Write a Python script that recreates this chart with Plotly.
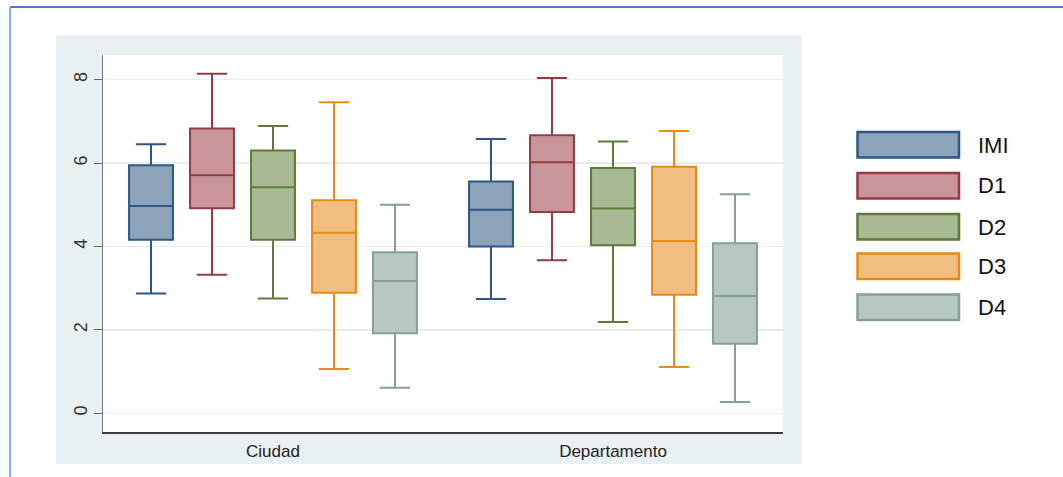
import plotly.graph_objects as go

# ---- data ----
groups = ["Ciudad", "Departamento"]
series = ["IMI", "D1", "D2", "D3", "D4"]

lower = {
    "IMI": [2.87, 2.74],
    "D1": [3.32, 3.67],
    "D2": [2.75, 2.19],
    "D3": [1.06, 1.11],
    "D4": [0.61, 0.27],
}
q1 = {
    "IMI": [4.16, 4.00],
    "D1": [4.92, 4.83],
    "D2": [4.16, 4.03],
    "D3": [2.89, 2.84],
    "D4": [1.92, 1.67],
}
median = {
    "IMI": [4.97, 4.88],
    "D1": [5.71, 6.02],
    "D2": [5.42, 4.91],
    "D3": [4.33, 4.13],
    "D4": [3.17, 2.81],
}
q3 = {
    "IMI": [5.95, 5.56],
    "D1": [6.83, 6.67],
    "D2": [6.30, 5.88],
    "D3": [5.11, 5.91],
    "D4": [3.86, 4.08],
}
upper = {
    "IMI": [6.45, 6.58],
    "D1": [8.14, 8.04],
    "D2": [6.89, 6.52],
    "D3": [7.46, 6.77],
    "D4": [5.00, 5.25],
}
y_ticks = [0, 2, 4, 6, 8]

# ---- styles ----
line_colors = ["#2C5885", "#933C43", "#5C7A3A", "#E88A14", "#86A096"]
fill_colors = ["#8CA3B9", "#C8969A", "#A9BA93", "#F0BE80", "#B7C8C1"]

W, H = 1063, 477
L, R, T, B = 103, 783, 55, 432  # plot area in pixels


def px(x):
    return (x - L) / (R - L)


def py(y):
    return (B - y) / (B - T)


fig = go.Figure()
for i, s in enumerate(series):
    fig.add_trace(go.Box(
        x=groups,
        q1=q1[s], median=median[s], q3=q3[s],
        lowerfence=lower[s], upperfence=upper[s],
        name=s,
        fillcolor=fill_colors[i],
        line=dict(color=line_colors[i], width=2),
        whiskerwidth=0.69,
        boxpoints=False,
        showlegend=False,
        hoverinfo="skip",
    ))

shapes = [
    # light panel
    dict(type="rect", xref="paper", yref="paper",
         x0=px(56), x1=px(802), y0=py(464), y1=py(35),
         fillcolor="#EAF1F3", line=dict(width=0), layer="below"),
    # white plot region
    dict(type="rect", xref="paper", yref="paper",
         x0=0, x1=1, y0=0, y1=1,
         fillcolor="#FFFFFF", line=dict(width=0), layer="below"),
    # outer blue frame
    dict(type="line", xref="paper", yref="paper",
         x0=px(10), x1=px(1063), y0=py(7), y1=py(7),
         line=dict(color="#3F7ED3", width=2)),
    dict(type="line", xref="paper", yref="paper",
         x0=px(10), x1=px(10), y0=py(7), y1=py(477),
         line=dict(color="#7DB2EA", width=2)),
]

annotations = []
leg_top = [132, 173, 214, 253.5, 294.5]
for i, s in enumerate(series):
    y0 = leg_top[i]
    shapes.append(dict(type="rect", xref="paper", yref="paper",
                       x0=px(857.5), x1=px(959), y0=py(y0 + 25.5), y1=py(y0),
                       fillcolor=fill_colors[i],
                       line=dict(color=line_colors[i], width=2.5)))
    annotations.append(dict(xref="paper", yref="paper",
                            x=px(976), y=py(y0 + 13), text=s,
                            showarrow=False, xanchor="left", yanchor="middle",
                            font=dict(family="Liberation Sans, Arial, sans-serif",
                                      size=22, color="#111111")))

fig.update_layout(
    width=W, height=H,
    margin=dict(l=L, r=W - R, t=T, b=H - B, pad=0),
    paper_bgcolor="#FFFFFF",
    plot_bgcolor="rgba(0,0,0,0)",
    boxmode="group",
    boxgap=0.103,
    boxgroupgap=0.28,
    shapes=shapes,
    annotations=annotations,
    font=dict(family="Liberation Sans, Arial, sans-serif", color="#222222"),
    showlegend=False,
)

fig.update_xaxes(
    type="category",
    range=[-0.5, 1.5],
    showline=True, linecolor="#3A3A3A", linewidth=1.5,
    ticks="", showgrid=False, zeroline=False,
    tickfont=dict(size=17, color="#222222"),
    ticklabelstandoff=3,
)
fig.update_yaxes(
    range=[(413.3 - B) / 41.7, (413.3 - T) / 41.7],
    tickvals=y_ticks,
    ticktext=[str(v) for v in y_ticks],
    tickangle=-90,
    ticks="outside", ticklen=8, tickcolor="#666666", tickwidth=1,
    showline=True, linecolor="#777777", linewidth=1,
    showgrid=True, gridcolor="#E7EEF0", gridwidth=1.5,
    zeroline=False,
    tickfont=dict(size=18, color="#333333"),
)

fig.write_html(
    "out.html",
    config={"displayModeBar": False, "staticPlot": True},
    post_script="document.body.style.margin='0';document.body.style.overflow='hidden';",
)
